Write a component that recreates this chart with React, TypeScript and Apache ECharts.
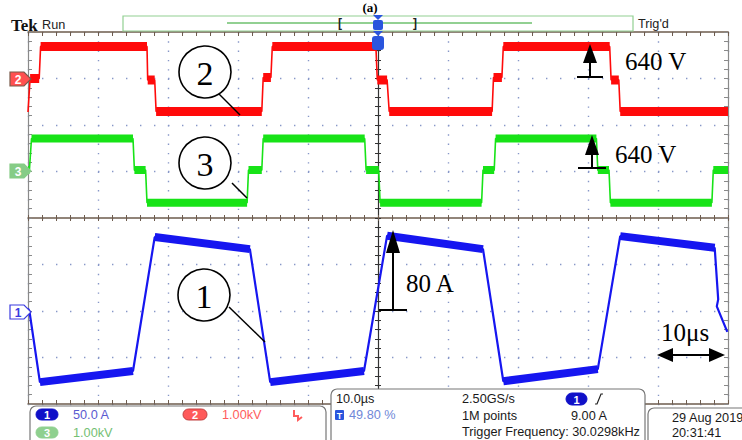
import React, { useEffect, useRef } from 'react';
import * as echarts from 'echarts';

// time axis: microseconds (10 us / div), vertical axis: divisions (8 div)
const timeTicks = [0, 10, 20, 30, 40, 50, 60, 70, 80, 90, 100];

// Channel 2 (red) trace breakpoints
const ch2Time = [0, 0.3, 1.6, 1.8, 17.0, 17.1, 18.1, 18.3, 33.4, 33.6, 34.7, 34.9, 49.7, 49.9, 51.3, 51.6, 66.3, 66.5, 67.7, 67.9, 83.1, 83.3, 84.4, 84.6, 100];
const ch2Level = [2.28, 3.0, 3.0, 3.69, 3.69, 2.97, 2.97, 2.29, 2.29, 3.02, 3.02, 3.69, 3.69, 2.97, 2.97, 2.29, 2.29, 3.02, 3.02, 3.69, 3.69, 2.97, 2.97, 2.29, 2.29];

// Channel 3 (green)
const ch3Time = [0, 0.2, 0.5, 15.0, 15.2, 16.8, 17.0, 31.3, 31.5, 33.4, 33.6, 48.1, 48.3, 50.1, 50.3, 64.8, 65.0, 66.6, 66.8, 81.2, 81.4, 83.0, 83.2, 97.7, 97.9, 100];
const ch3Level = [1.03, 1.03, 1.71, 1.71, 1.03, 1.03, 0.33, 0.33, 1.03, 1.03, 1.71, 1.71, 1.03, 1.03, 0.33, 0.33, 1.03, 1.03, 1.71, 1.71, 1.03, 1.03, 0.33, 0.33, 1.03, 1.03];

// Channel 1 (blue, current)
const ch1Time = [0, 0.2, 1.7, 15.0, 18.1, 31.7, 34.6, 48.0, 51.3, 65.0, 67.9, 81.4, 84.6, 98.1, 98.6, 98.4, 99.9];
const ch1Level = [-1.95, -2.0, -3.53, -3.29, -0.41, -0.67, -3.53, -3.29, -0.38, -0.67, -3.51, -3.25, -0.39, -0.64, -1.75, -1.9, -2.45];

const infoLeft = ['50.0 A', '1.00kV', '1.00kV'];
const infoMid = ['10.0µs', '49.80 %', '2.50GS/s', '1M points', 'Trigger Frequency: 30.0298kHz', '9.00 A'];
const infoRight = ['29 Aug 2019', '20:31:41'];

const RED = '#ff0a0a';
const GREEN = '#17e317';
const BLUE = '#1616f0';
const BROWN = '#6e5c4e';
const DOT = '#8797c8';
const UI = '12.7px "Liberation Sans"';
const SERIF = '"Liberation Serif"';

function full(t: number[], v: number[]) {
  return t.map((x, i) => [x, v[i]]);
}
function plateaus(t: number[], v: number[], flat: (i: number) => boolean) {
  const out: any[] = [];
  for (let i = 0; i < t.length - 1; i++) {
    if (flat(i)) {
      out.push([t[i], v[i]], [t[i + 1], v[i + 1]], [(t[i] + t[i + 1]) / 2, '-']);
    }
  }
  return out;
}

function tickX(position: string, offset: number, inside: boolean, len: number, line: boolean, color = BROWN) {
  return {
    type: 'value', min: 0, max: 100, interval: 2, position, offset,
    axisLine: { show: line, onZero: false, lineStyle: { color, width: 1.5 } },
    axisTick: { show: true, inside, length: len, lineStyle: { color, width: 1 } },
    axisLabel: { show: false }, splitLine: { show: false },
  };
}
function tickY(position: string, offset: number, inside: boolean, len: number, line: boolean, color = '#8a8a8a') {
  return {
    type: 'value', min: -4, max: 4, interval: 0.2, position, offset,
    axisLine: { show: line, onZero: false, lineStyle: { color, width: 1.2 } },
    axisTick: { show: true, inside, length: len, lineStyle: { color, width: 1 } },
    axisLabel: { show: false }, splitLine: { show: false },
  };
}

function txt(text: string, x: number, y: number, font: string, fill: string, align = 'left') {
  return {
    type: 'text', x, y, z: 100,
    style: { text, font, fill, textAlign: align, align, textVerticalAlign: 'middle', verticalAlign: 'middle' },
  };
}
function pill(x: number, y: number, w: number, h: number, fill: string, label: string, stroke?: string) {
  return [
    { type: 'rect', z: 100, shape: { x, y, width: w, height: h, r: h / 2 }, style: { fill, stroke: stroke || fill, lineWidth: 1 } },
    txt(label, x + w / 2, y + h / 2 + 0.5, 'bold 11px "Liberation Sans"', '#fff', 'center'),
  ];
}
function marker(y: number, fill: string, stroke: string, label: string, color: string) {
  return [
    { type: 'polygon', z: 100, shape: { points: [[10, y - 7], [24, y - 7], [31, y], [24, y + 7], [10, y + 7]] }, style: { fill, stroke, lineWidth: 1.2 } },
    txt(label, 18, y + 0.5, 'bold 12px "Liberation Sans"', color, 'center'),
  ];
}
function upArrow(x: number, top: number, headBase: number, base: number, half: number, baseHalf: number) {
  return [
    { type: 'polygon', z: 100, shape: { points: [[x, top], [x - half, headBase], [x + half, headBase]] }, style: { fill: '#000' } },
    { type: 'line', z: 100, shape: { x1: x, y1: headBase - 2, x2: x, y2: base }, style: { stroke: '#000', lineWidth: 2 } },
    { type: 'line', z: 100, shape: { x1: x - baseHalf, y1: base, x2: x + baseHalf, y2: base }, style: { stroke: '#000', lineWidth: 2 } },
  ];
}
function numCircle(cx: number, cy: number, label: string, lx1: number, ly1: number, lx2: number, ly2: number) {
  return [
    { type: 'line', z: 100, shape: { x1: lx1, y1: ly1, x2: lx2, y2: ly2 }, style: { stroke: '#000', lineWidth: 1.5 } },
    { type: 'circle', z: 100, shape: { cx, cy, r: 26 }, style: { fill: '#fff', stroke: '#000', lineWidth: 1.6 } },
    txt(label, cx, cy + 1, `34px ${SERIF}`, '#000', 'center'),
  ];
}

export default function App() {
  const ref = useRef<HTMLDivElement>(null);
  useEffect(() => {
    document.body.style.margin = '0';
    const chart = echarts.init(ref.current as HTMLDivElement, null, { renderer: 'svg' });
    const graphic: any[] = [
      // header
      txt('(a)', 370, 7, `bold 13px ${SERIF}`, '#000', 'center'),
      txt('Tek', 11, 25, `bold 17px ${SERIF}`, '#111'),
      txt('Run', 42, 25, UI, '#222'),
      { type: 'rect', z: 100, shape: { x: 123, y: 16, width: 510, height: 15 }, style: { fill: '#fff', stroke: '#92d092', lineWidth: 1.2 } },
      { type: 'line', z: 100, shape: { x1: 227, y1: 23, x2: 532, y2: 23 }, style: { stroke: '#92d092', lineWidth: 2 } },
      txt('[', 338, 23, 'bold 12px "Liberation Sans"', '#222'),
      txt(']', 413, 23, 'bold 12px "Liberation Sans"', '#222'),
      txt("Trig'd", 638, 24, UI, '#222'),
      { type: 'polygon', z: 101, shape: { points: [[373, 15], [383, 15], [378, 20]] }, style: { fill: '#2a55dd' } },
      { type: 'rect', z: 101, shape: { x: 373, y: 20, width: 10, height: 10, r: 2 }, style: { fill: '#2a55dd' } },
      txt('T', 378, 25.5, 'bold 9px "Liberation Sans"', '#fff', 'center'),
      { type: 'polygon', z: 101, shape: { points: [[373, 31], [383, 31], [378, 36]] }, style: { fill: '#2a55dd' } },
      { type: 'rect', z: 101, shape: { x: 372, y: 36, width: 12, height: 14, r: 3 }, style: { fill: '#2a55dd' } },
      txt('T', 378, 43.5, 'bold 11px "Liberation Sans"', '#fff', 'center'),
      // channel markers
      ...marker(79, '#ff5050', '#7a5a4a', '2', '#fff'),
      ...marker(171, '#86cc86', '#86cc86', '3', '#fff'),
      ...marker(312, '#fff', '#3a3ae0', '1', '#3a3ae0'),
      // annotations
      ...numCircle(205, 72, '2', 218, 93, 240, 115),
      ...numCircle(205, 163, '3', 232, 183, 247, 198),
      ...numCircle(204, 295, '1', 229, 307, 265, 342),
      ...upArrow(590, 44, 63, 77, 7, 13),
      txt('640 V', 625, 61, `25px ${SERIF}`, '#000'),
      ...upArrow(592, 135, 155, 168, 7, 14),
      txt('640 V', 615, 154, `25px ${SERIF}`, '#000'),
      ...upArrow(393, 230, 253, 310, 7, 14),
      txt('80 A', 406, 283, `25px ${SERIF}`, '#000'),
      { type: 'line', z: 100, shape: { x1: 668, y1: 355, x2: 714, y2: 355 }, style: { stroke: '#000', lineWidth: 2 } },
      { type: 'polygon', z: 100, shape: { points: [[657, 355], [673, 348], [673, 362]] }, style: { fill: '#000' } },
      { type: 'polygon', z: 100, shape: { points: [[725, 355], [709, 348], [709, 362]] }, style: { fill: '#000' } },
      txt('10μs', 661, 332, `25px ${SERIF}`, '#000'),
      // bottom-left info box
      { type: 'rect', z: 100, shape: { x: 30, y: 406, width: 296, height: 44, r: 6 }, style: { fill: '#fff', stroke: '#777', lineWidth: 1.2 } },
      ...pill(36, 409, 22, 11, '#1010c8', '1'),
      txt(infoLeft[0], 73, 415, UI, '#5a5ad0'),
      ...pill(183, 409, 24, 11, '#ff5a5a', '2', '#c04040'),
      txt(infoLeft[1], 222, 415, UI, '#ff5c5c'),
      { type: 'polyline', z: 100, shape: { points: [[294, 410], [294, 416], [298, 416], [298, 420], [302, 417]] }, style: { stroke: '#ff5c5c', lineWidth: 2, fill: 'none' } },
      ...pill(36, 427, 22, 11, '#8fd08f', '3'),
      txt(infoLeft[2], 73, 433, UI, '#74c074'),
      // bottom-middle info box
      { type: 'rect', z: 100, shape: { x: 331, y: 389, width: 314, height: 60, r: 6 }, style: { fill: '#fff', stroke: '#777', lineWidth: 1.2 } },
      txt(infoMid[0], 336, 399, UI, '#1a1a1a'),
      { type: 'rect', z: 100, shape: { x: 335, y: 410, width: 9, height: 10, r: 1 }, style: { fill: '#2a55dd' } },
      txt('T', 339.5, 415.5, 'bold 9px "Liberation Sans"', '#fff', 'center'),
      txt(infoMid[1], 349, 415, UI, '#7088d8'),
      txt(infoMid[2], 462, 399, UI, '#1a1a1a'),
      txt(infoMid[3], 462, 416, UI, '#1a1a1a'),
      txt(infoMid[4], 462, 432, UI, '#1a1a1a'),
      ...pill(566, 393, 21, 12, '#1010c8', '1'),
      { type: 'polyline', z: 100, shape: { points: [[595, 404], [597, 404], [601, 394], [603, 394]] }, style: { stroke: '#222', lineWidth: 1.2, fill: 'none' } },
      txt(infoMid[5], 571, 416, UI, '#1a1a1a'),
      // bottom-right info box
      { type: 'rect', z: 100, shape: { x: 648, y: 408, width: 110, height: 44, r: 6 }, style: { fill: '#fff', stroke: '#777', lineWidth: 1.2 } },
      txt(infoRight[0], 672, 418, UI, '#1a1a1a'),
      txt(infoRight[1], 672, 433, UI, '#1a1a1a'),
    ];

    const thin = (data: any[], color: string, w: number) => ({
      type: 'line', data, showSymbol: false, symbol: 'none', silent: true,
      lineStyle: { color, width: w }, xAxisIndex: 0, yAxisIndex: 0,
    });
    const thick = (data: any[], color: string, w: number) => ({
      type: 'line', data, showSymbol: false, symbol: 'none', silent: true, connectNulls: false,
      lineStyle: { color, width: w, cap: 'butt' }, xAxisIndex: 0, yAxisIndex: 0,
    });

    chart.setOption({
      animation: false,
      backgroundColor: '#fff',
      grid: { left: 28, right: 14, top: 32, bottom: 36, containLabel: false },
      xAxis: [
        {
          type: 'value', min: timeTicks[0], max: timeTicks[timeTicks.length - 1], interval: 10, position: 'bottom',
          axisLine: { show: false, onZero: false }, axisTick: { show: false }, axisLabel: { show: false },
          splitLine: { show: true, lineStyle: { color: DOT, width: 1.4, type: [1.4, 7.9] } },
        },
        tickX('bottom', 0, true, 4, true),
        tickX('top', 0, true, 4, true),
        tickX('bottom', -186, true, 3, true),
        tickX('bottom', -186, false, 3, false),
      ],
      yAxis: [
        {
          type: 'value', min: -4, max: 4, interval: 1, position: 'left',
          axisLine: { show: false, onZero: false }, axisTick: { show: false }, axisLabel: { show: false },
          splitLine: { show: true, lineStyle: { color: DOT, width: 1.4, type: [1.4, 12.6] } },
        },
        tickY('left', 0, true, 4, true),
        tickY('right', 0, true, 4, true),
        tickY('left', -350, true, 3, true, '#333'),
        tickY('left', -350, false, 3, false, '#333'),
      ],
      series: [
        thin(full(ch2Time, ch2Level), RED, 1.6),
        thick(plateaus(ch2Time, ch2Level, (i) => ch2Level[i] === ch2Level[i + 1]), RED, 9),
        thin(full(ch3Time, ch3Level), GREEN, 1.6),
        thick(plateaus(ch3Time, ch3Level, (i) => ch3Level[i] === ch3Level[i + 1]), GREEN, 8),
        thin(full(ch1Time, ch1Level), BLUE, 2.2),
        thick(plateaus(ch1Time, ch1Level, (i) => ch1Time[i + 1] - ch1Time[i] > 5), BLUE, 8),
      ],
      graphic,
    });
    return () => chart.dispose();
  }, []);
  return <div ref={ref} style={{ position: 'absolute', left: 0, top: 0, width: 742, height: 440 }} />;
}
